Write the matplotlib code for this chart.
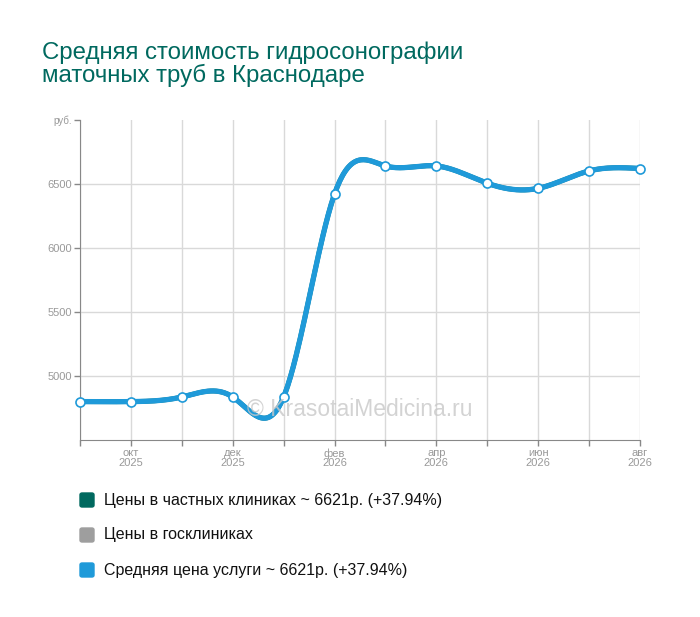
import numpy as np
import matplotlib.pyplot as plt
from matplotlib.patches import FancyBboxPatch

plt.rcParams['font.family'] = ['Liberation Sans', 'DejaVu Sans']

# данные
months = ['сен', 'окт', 'ноя', 'дек', 'янв', 'фев', 'мар', 'апр', 'май', 'июн', 'июл', 'авг']
years = ['2025'] * 4 + ['2026'] * 8
avg_price = [4800, 4800, 4836, 4836, 4836, 6422, 6641, 6641, 6506, 6466, 6602, 6621]
private_price = [4800, 4800, 4836, 4836, 4836, 6422, 6641, 6641, 6506, 6466, 6602, 6621]
legend_labels = ['Цены в частных клиниках ~ 6621р. (+37.94%)',
                 'Цены в госклиниках',
                 'Средняя цена услуги ~ 6621р. (+37.94%)']
legend_colors = ['#00695f', '#9e9e9e', '#1f9ad9']


def natural_spline(x, y, n=400):
    # натуральный кубический сплайн
    x = np.asarray(x, float)
    y = np.asarray(y, float)
    k = len(x)
    h = np.diff(x)
    A = np.zeros((k, k))
    b = np.zeros(k)
    A[0, 0] = A[-1, -1] = 1
    for i in range(1, k - 1):
        A[i, i - 1] = h[i - 1]
        A[i, i] = 2 * (h[i - 1] + h[i])
        A[i, i + 1] = h[i]
        b[i] = 6 * ((y[i + 1] - y[i]) / h[i] - (y[i] - y[i - 1]) / h[i - 1])
    M = np.linalg.solve(A, b)
    xs = np.linspace(x[0], x[-1], n)
    idx = np.clip(np.searchsorted(x, xs) - 1, 0, k - 2)
    x0, x1 = x[idx], x[idx + 1]
    hh = x1 - x0
    t0 = x1 - xs
    t1 = xs - x0
    ys = (M[idx] * t0 ** 3 / (6 * hh) + M[idx + 1] * t1 ** 3 / (6 * hh)
          + (y[idx] / hh - M[idx] * hh / 6) * t0
          + (y[idx + 1] / hh - M[idx + 1] * hh / 6) * t1)
    return xs, ys


fig = plt.figure(figsize=(7, 6.17), dpi=100)
ax = fig.add_axes([80 / 700, 1 - 440 / 617, 560 / 700, 320 / 617])

x = np.arange(len(months))
xs, ys = natural_spline(x, private_price)
ax.plot(xs, ys, color=legend_colors[0], lw=3.5, solid_capstyle='round', zorder=3)
xs, ys = natural_spline(x, avg_price)
ax.plot(xs, ys, color=legend_colors[2], lw=3.8, solid_capstyle='round', zorder=4)
ax.plot(x, avg_price, 'o', ms=6.5, mfc='white', mec=legend_colors[2], mew=1.2, zorder=5, clip_on=False)

ax.set_xlim(0, 11)
ax.set_ylim(4500, 7000)
ax.set_xticks(x)
ax.set_xticklabels([f'{m}\n{yr}' if i % 2 == 1 else '' for i, (m, yr) in enumerate(zip(months, years))],
                   fontsize=8, color='#999999', linespacing=0.9)
ax.set_yticks([5000, 5500, 6000, 6500, 7000])
ax.set_yticklabels(['5000', '5500', '6000', '6500', 'руб.'], fontsize=8, color='#999999')
ax.get_yticklabels()[-1].set_fontsize(7)
ax.tick_params(axis='both', length=4, color='#888888', width=1, pad=2)
ax.grid(True, color='#d9d9d9', lw=1)
ax.set_axisbelow(True)
for s in ['top', 'right']:
    ax.spines[s].set_visible(False)
for s in ['left', 'bottom']:
    ax.spines[s].set_color('#888888')
# убираем верхнюю горизонтальную линию сетки
ax.get_ygridlines()[-1].set_visible(False)

ax.text(0.5, 0.095, '© KrasotaiMedicina.ru', transform=ax.transAxes, ha='center', va='center',
        fontsize=16.5, color='#c8c8c8', alpha=0.8, zorder=6)

fig.text(42 / 700, 1 - 64 / 617, 'Средняя стоимость гидросонографии\nматочных труб в Краснодаре',
         fontsize=17.3, color='#00695f', ha='left', va='center', linespacing=1.0)

for i, (lab, col) in enumerate(zip(legend_labels, legend_colors)):
    yy = 1 - (500 + 35 * i) / 617
    fig.patches.append(FancyBboxPatch((80 / 700, yy - 7 / 617), 14 / 700, 14 / 617,
                                      boxstyle='round,pad=0,rounding_size=0.003',
                                      transform=fig.transFigure, color=col, figure=fig))
    fig.text(104 / 700, yy, lab, fontsize=11.5, color='#111111', va='center', ha='left')

fig.savefig('out.png', dpi=100)
